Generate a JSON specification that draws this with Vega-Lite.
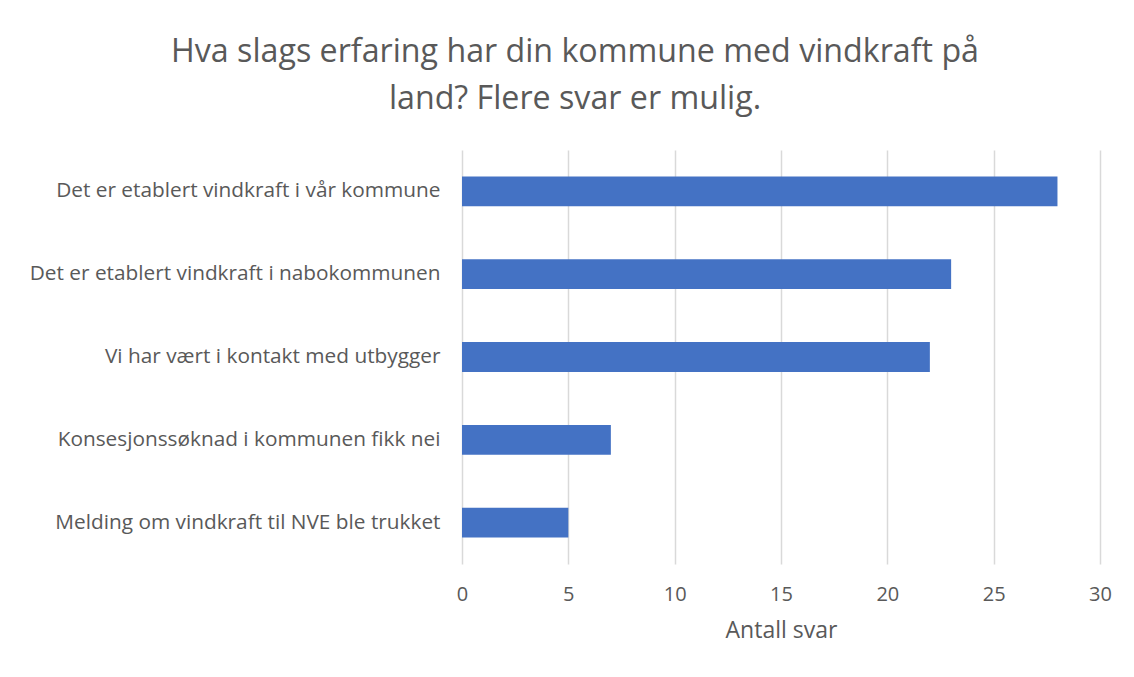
{
  "$schema": "https://vega.github.io/schema/vega-lite/v6.json",
  "autosize": "none",
  "width": 638,
  "height": 414,
  "padding": {"left": 462, "top": 150, "right": 34, "bottom": 113},
  "background": "white",
  "title": {
    "text": ["Hva slags erfaring har din kommune med vindkraft på", "land? Flere svar er mulig."],
    "font": "Open Sans",
    "fontSize": 32.2,
    "fontWeight": "normal",
    "color": "#595959",
    "anchor": "middle",
    "dx": -206,
    "offset": 34,
    "lineHeight": 47
  },
  "data": {
    "values": [
      {"kategori": "Det er etablert vindkraft i vår kommune", "antall": 28},
      {"kategori": "Det er etablert vindkraft i nabokommunen", "antall": 23},
      {"kategori": "Vi har vært i kontakt med utbygger", "antall": 22},
      {"kategori": "Konsesjonssøknad i kommunen fikk nei", "antall": 7},
      {"kategori": "Melding om vindkraft til NVE ble trukket", "antall": 5}
    ]
  },
  "mark": {"type": "bar", "color": "#4472C4"},
  "encoding": {
    "y": {
      "field": "kategori",
      "type": "nominal",
      "sort": null,
      "scale": {"paddingInner": 0.64, "paddingOuter": 0.32},
      "axis": {
        "title": null,
        "domain": false,
        "ticks": false,
        "grid": false,
        "labelFont": "Open Sans",
        "labelFontSize": 20.8,
        "labelColor": "#595959",
        "labelPadding": 22,
        "labelLimit": 500
      }
    },
    "x": {
      "field": "antall",
      "type": "quantitative",
      "scale": {"domain": [0, 30]},
      "axis": {
        "title": "Antall svar",
        "values": [0, 5, 10, 15, 20, 25, 30],
        "domain": false,
        "ticks": false,
        "grid": true,
        "gridColor": "#d9d9d9",
        "gridWidth": 1.5,
        "labelFlush": false,
        "labelFont": "Open Sans",
        "labelFontSize": 20,
        "labelColor": "#595959",
        "labelPadding": 20,
        "titleFont": "Open Sans",
        "titleFontSize": 23,
        "titleFontWeight": "normal",
        "titleColor": "#595959",
        "titlePadding": 15
      }
    }
  },
  "config": {"view": {"stroke": null}}
}
